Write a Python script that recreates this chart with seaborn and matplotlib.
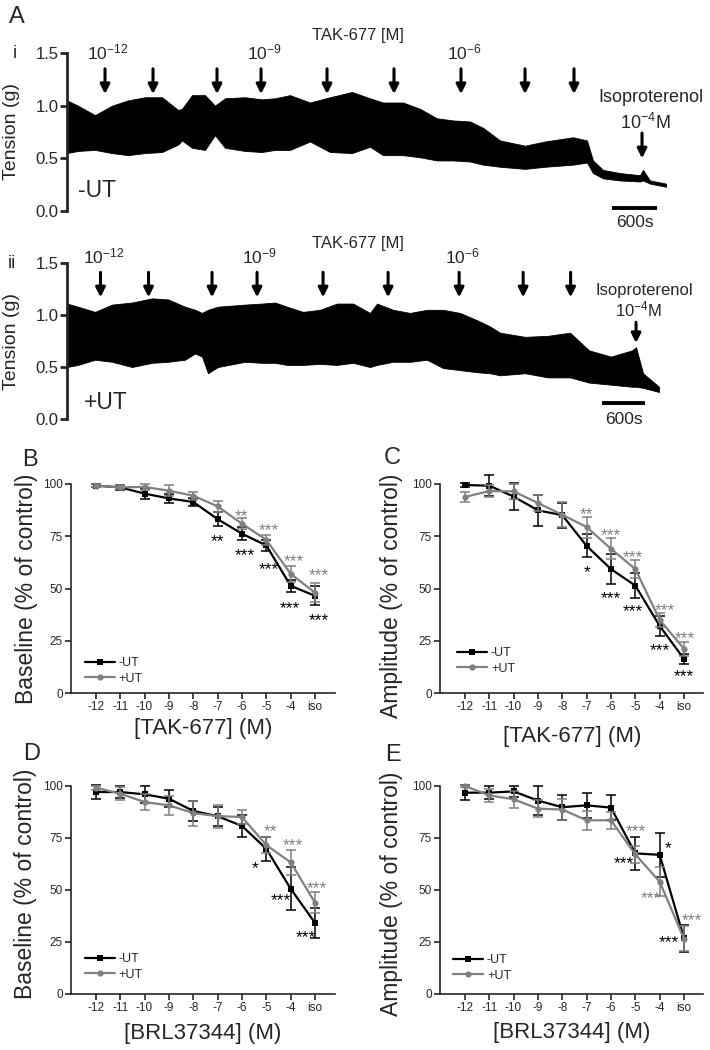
import numpy as np
import pandas as pd
import matplotlib
matplotlib.use('Agg')
import matplotlib.pyplot as plt
import seaborn as sns

sns.set_style('ticks')
plt.rcParams['font.family'] = ['Liberation Sans', 'DejaVu Sans']
plt.rcParams['mathtext.fontset'] = 'custom'
plt.rcParams['mathtext.rm'] = 'Liberation Sans'
plt.rcParams['mathtext.it'] = 'Liberation Sans'
plt.rcParams['mathtext.default'] = 'regular'

BLACK = '#000000'
GRAY = '#808080'

# ---- panel A: tension traces (envelope read from the recording, s / g)
trace_i_t = [0, 147, 373, 600, 813, 1040, 1267, 1480, 1533, 1667, 1840, 1973, 2107,
             2373, 2600, 2773, 2973, 3240, 3507, 3800, 4040, 4213, 4480, 4707, 4933,
             5147, 5373, 5547, 5773, 6107, 6373, 6747, 6933, 7013, 7147, 7373, 7640,
             7680, 7773, 7987]
trace_i_hi = [1.05, 1.00, 0.91, 1.00, 1.05, 1.08, 1.08, 0.96, 0.97, 1.10, 1.10, 1.00, 1.07,
              1.08, 1.06, 1.07, 1.10, 1.03, 1.08, 1.13, 1.07, 1.03, 1.03, 0.97, 0.88,
              0.86, 0.85, 0.79, 0.67, 0.62, 0.66, 0.70, 0.67, 0.48, 0.39, 0.36, 0.34,
              0.39, 0.29, 0.26]
trace_i_lo = [0.55, 0.57, 0.58, 0.55, 0.53, 0.55, 0.56, 0.63, 0.67, 0.60, 0.58, 0.72, 0.60,
              0.57, 0.56, 0.58, 0.58, 0.66, 0.56, 0.55, 0.61, 0.53, 0.53, 0.51, 0.48,
              0.48, 0.47, 0.44, 0.42, 0.40, 0.42, 0.44, 0.46, 0.36, 0.31, 0.29, 0.28,
              0.29, 0.26, 0.23]
arrows_i = [507, 1147, 2000, 2587, 3467, 4360, 5253, 6107, 6760]
iso_i = 7667

trace_ii_t = [0, 153, 391, 628, 907, 1186, 1409, 1646, 1786, 1883, 1967, 2106, 2483,
              2720, 2902, 3069, 3292, 3529, 3767, 3990, 4227, 4325, 4548, 4785, 5022,
              5245, 5482, 5720, 5901, 6040, 6389, 6710, 7017, 7282, 7589, 7882, 7938,
              8035, 8258]
trace_ii_hi = [1.11, 1.08, 1.03, 1.10, 1.12, 1.16, 1.15, 1.08, 1.05, 1.02, 1.05, 1.08, 1.10,
               1.11, 1.12, 1.08, 1.03, 1.05, 1.11, 1.11, 1.02, 1.11, 1.05, 1.02, 1.05,
               1.05, 1.02, 0.95, 0.89, 0.83, 0.79, 0.80, 0.83, 0.66, 0.60, 0.66, 0.69,
               0.44, 0.31]
trace_ii_lo = [0.50, 0.52, 0.57, 0.55, 0.50, 0.54, 0.55, 0.57, 0.63, 0.60, 0.44, 0.50, 0.55,
               0.54, 0.54, 0.52, 0.52, 0.53, 0.52, 0.54, 0.50, 0.52, 0.55, 0.55, 0.57,
               0.49, 0.47, 0.45, 0.44, 0.42, 0.44, 0.40, 0.40, 0.35, 0.33, 0.31, 0.31,
               0.30, 0.26]
arrows_ii = [467, 1137, 2023, 2651, 3572, 4479, 5470, 6363, 7025]
iso_ii = 7938
conc_labels = [r'10$^{-12}$', r'10$^{-9}$', r'10$^{-6}$']
conc_label_idx = [0, 3, 6]

# ---- panels B-E: % of control, mean and SEM
doses = ['-12', '-11', '-10', '-9', '-8', '-7', '-6', '-5', '-4', 'iso']

b_minus = [99.2, 98.4, 95.4, 93.1, 91.4, 83.2, 76.2, 70.6, 51.3, 46.5]
b_minus_err = [0.8, 1.2, 2.4, 2.0, 2.0, 3.2, 3.0, 2.5, 3.0, 4.5]
b_plus = [99.2, 98.4, 98.6, 96.8, 94.4, 89.3, 81.0, 73.3, 57.0, 48.0]
b_plus_err = [0.6, 1.0, 1.5, 2.5, 2.0, 2.5, 2.5, 2.5, 3.8, 4.5]

c_minus = [99.5, 99.2, 94.0, 87.4, 85.1, 70.4, 59.3, 51.4, 32.1, 16.3]
c_minus_err = [0.8, 5.0, 6.5, 7.3, 6.0, 5.5, 7.0, 6.0, 4.8, 2.3]
c_plus = [93.8, 96.6, 96.5, 90.9, 85.3, 79.4, 69.0, 59.3, 35.0, 21.1]
c_plus_err = [2.5, 3.0, 3.5, 4.0, 6.0, 5.0, 5.0, 4.5, 3.5, 3.5]

d_minus = [97.1, 97.1, 96.0, 93.9, 88.0, 85.5, 80.8, 69.8, 50.6, 34.2]
d_minus_err = [3.5, 3.0, 4.0, 4.0, 5.0, 4.5, 5.3, 5.8, 10.3, 7.3]
d_plus = [99.2, 96.3, 92.3, 90.7, 87.0, 85.5, 85.1, 71.6, 63.3, 43.9]
d_plus_err = [1.0, 3.0, 4.0, 4.5, 6.0, 5.5, 3.5, 4.0, 6.0, 5.0]

e_minus = [96.8, 96.8, 97.4, 93.0, 89.8, 90.7, 89.6, 67.6, 66.9, 26.8]
e_minus_err = [3.5, 3.0, 2.5, 7.0, 6.0, 6.0, 6.0, 7.8, 10.7, 6.5]
e_plus = [100.0, 95.5, 93.6, 89.1, 88.7, 83.5, 83.5, 67.1, 54.0, 26.5]
e_plus_err = [0.5, 3.0, 4.0, 4.0, 5.0, 4.5, 4.0, 4.0, 7.0, 6.0]

# significance marks: (dose position, value, text)
stars_b_plus = [(6.0, 87.2, '**'), (7.1, 80.5, '***'), (8.15, 65.3, '***'), (9.15, 58.6, '***')]
stars_b_minus = [(5.0, 75.2, '**'), (6.1, 68.2, '***'), (7.1, 61.8, '***'), (7.95, 43.0, '***'),
                 (9.15, 37.1, '***')]
stars_c_plus = [(5.0, 88.0, '**'), (6.0, 78.1, '***'), (6.9, 67.3, '***'), (8.2, 42.0, '***'),
                (9.05, 28.6, '***')]
stars_c_minus = [(5.0, 60.2, '*'), (6.0, 47.8, '***'), (6.9, 41.4, '***'), (8.0, 23.0, '***'),
                 (9.0, 10.7, '***')]
stars_d_plus = [(7.16, 80.8, '**'), (8.09, 74.0, '***'), (9.09, 53.5, '***')]
stars_d_minus = [(6.55, 62.8, '*'), (7.61, 47.3, '***'), (8.63, 29.7, '***')]
stars_e_plus = [(7.03, 80.7, '***'), (7.62, 48.4, '***'), (9.32, 38.0, '***')]
stars_e_minus = [(8.33, 72.4, '*'), (6.53, 65.2, '***'), (8.37, 27.3, '***')]

W, H = 710, 1050
fig = plt.figure(figsize=(W / 100, H / 100), dpi=100)


def px_axes(left, top, right, bottom):
    return fig.add_axes([left / W, 1 - bottom / H, (right - left) / W, (bottom - top) / H])


def trace_panel(ax, t, lo, hi, arrows, iso, xmax, lab_y, tak_y, tak_x, iso_txt_y, iso_lbl_y,
                iso_arrow, bar, bar_y, bar_txt_y, cond, cond_xy, ylab_x, iso_size):
    ax.fill_between(t, lo, hi, color=BLACK, linewidth=0.6, edgecolor=BLACK)
    ax.set_xlim(0, xmax)
    ax.set_ylim(0, 1.5)
    sns.despine(ax=ax, bottom=True)
    ax.spines['left'].set_linewidth(2)
    ax.set_xticks([])
    ax.set_yticks([0, 0.5, 1.0, 1.5])
    ax.set_yticklabels(['0.0', '0.5', '1.0', '1.5'])
    ax.tick_params(axis='y', direction='out', length=5, width=2, labelsize=12, pad=1)
    ax.set_ylabel('Tension (g)', fontsize=14)
    ax.yaxis.set_label_coords(ylab_x, 0.5)
    for a in arrows:
        ax.annotate('', xy=(a, lab_y - 0.30), xytext=(a, lab_y - 0.06),
                    arrowprops=dict(arrowstyle='-|>', lw=2.2, color=BLACK,
                                    mutation_scale=14, shrinkA=0, shrinkB=0),
                    annotation_clip=False)
    for lbl, idx in zip(conc_labels, conc_label_idx):
        ax.text(arrows[idx] + 40, lab_y, lbl, ha='center', va='bottom', fontsize=12.5)
    ax.text(tak_x, tak_y, 'TAK-677 [M]', ha='center', va='center', fontsize=12)
    ax.text(iso + 120, iso_txt_y, 'Isoproterenol', ha='center', va='center', fontsize=iso_size)
    ax.text(iso + 40, iso_lbl_y, r'10$^{-4}$M', ha='center', va='center', fontsize=iso_size)
    ax.annotate('', xy=(iso, iso_arrow[1]), xytext=(iso, iso_arrow[0]),
                arrowprops=dict(arrowstyle='-|>', lw=2.2, color=BLACK,
                                mutation_scale=14, shrinkA=0, shrinkB=0),
                annotation_clip=False)
    ax.plot(bar, [bar_y, bar_y], color=BLACK, lw=2.8, clip_on=False, solid_capstyle='butt')
    ax.text(np.mean(bar), bar_txt_y, '600s', ha='center', va='center', fontsize=12.5)
    ax.text(cond_xy[0], cond_xy[1], cond, ha='left', va='center', fontsize=16.5)


ax_i = px_axes(67, 53, 700, 211)
trace_panel(ax_i, trace_i_t, trace_i_lo, trace_i_hi, arrows_i, iso_i, 8440,
            lab_y=1.41, tak_y=1.67, tak_x=3880, iso_txt_y=1.08, iso_lbl_y=0.84,
            iso_arrow=(0.74, 0.50), bar=[7270, 7870], bar_y=0.03, bar_txt_y=-0.11,
            cond='-UT', cond_xy=(147, 0.19), ylab_x=-0.075, iso_size=13)

ax_ii = px_axes(67, 263, 700, 419)
trace_panel(ax_ii, trace_ii_t, trace_ii_lo, trace_ii_hi, arrows_ii, iso_ii, 8830,
            lab_y=1.47, tak_y=1.69, tak_x=4060, iso_txt_y=1.235, iso_lbl_y=1.055,
            iso_arrow=(0.93, 0.73), bar=[7464, 8064], bar_y=0.15, bar_txt_y=0.0,
            cond='+UT', cond_xy=(237, 0.16), ylab_x=-0.075, iso_size=12)


def dose_panel(ax, minus, minus_err, plus, plus_err, st_minus, st_plus, ylabel, xlabel,
               leg_xy, ylab_xy, xlab_y):
    pos = np.arange(len(doses))
    groups = [(minus, minus_err, BLACK, 's', '-UT', 3), (plus, plus_err, GRAY, 'o', '+UT', 4)]
    for vals, err, col, mk, lab, z in groups:
        ax.errorbar(pos, vals, yerr=err, fmt='none', ecolor=col, elinewidth=1.1,
                    capsize=3.5, capthick=1.1, zorder=z, clip_on=False)
        df = pd.DataFrame({'dose': pos, 'value': vals})
        sns.lineplot(data=df, x='dose', y='value', color=col, marker=mk, markersize=4.5,
                     markeredgewidth=0, linewidth=1.6, label=lab, ax=ax, zorder=z,
                     errorbar=None, clip_on=False)
    for stars, col in [(st_minus, BLACK), (st_plus, GRAY)]:
        for x, y, s in stars:
            ax.annotate(s, (x, y), xytext=(0, -7.2), textcoords='offset points',
                        ha='center', va='baseline', fontsize=12.5, color=col)
    ax.set_xlim(-1.02, 9.8)
    ax.set_ylim(0, 100)
    ax.set_xticks(pos)
    ax.set_xticklabels(doses)
    ax.set_yticks([0, 25, 50, 75, 100])
    sns.despine(ax=ax)
    for sp in ['left', 'bottom']:
        ax.spines[sp].set_linewidth(1.2)
    ax.tick_params(direction='out', length=4, width=1.2, labelsize=8.5, pad=2)
    ax.set_ylabel(ylabel, fontsize=16.5)
    ax.set_xlabel(xlabel, fontsize=16)
    ax.yaxis.set_label_coords(*ylab_xy)
    ax.xaxis.set_label_coords(0.5, xlab_y)
    ax.legend(loc='center left', bbox_to_anchor=leg_xy, frameon=False, fontsize=9,
              handlelength=2.4, handletextpad=0.3, labelspacing=0.25, borderpad=0,
              borderaxespad=0)


ax_b = px_axes(71, 484, 334.5, 693)
dose_panel(ax_b, b_minus, b_minus_err, b_plus, b_plus_err, stars_b_minus, stars_b_plus,
           'Baseline (% of control)', '[TAK-677] (M)', (0.053, 0.105), (-0.125, 0.5), -0.12)
ax_c = px_axes(440, 484, 703.5, 693)
dose_panel(ax_c, c_minus, c_minus_err, c_plus, c_plus_err, stars_c_minus, stars_c_plus,
           'Amplitude (% of control)', '[TAK-677] (M)', (0.065, 0.153), (-0.141, 0.465), -0.16)
ax_d = px_axes(71, 786, 334.5, 994)
dose_panel(ax_d, d_minus, d_minus_err, d_plus, d_plus_err, stars_d_minus, stars_d_plus,
           'Baseline (% of control)', '[BRL37344] (M)', (0.053, 0.13), (-0.129, 0.53), -0.14)
ax_e = px_axes(440, 786, 703.5, 994)
dose_panel(ax_e, e_minus, e_minus_err, e_plus, e_plus_err, stars_e_minus, stars_e_plus,
           'Amplitude (% of control)', '[BRL37344] (M)', (0.05, 0.125), (-0.141, 0.48), -0.135)

for lbl, x, y, size in [('A', 17, 17, 17), ('i', 15, 53, 13), ('ii', 12, 263, 13),
                        ('B', 30, 460, 17), ('C', 392, 458, 17),
                        ('D', 32, 754, 17), ('E', 393, 755, 17)]:
    fig.text(x / W, 1 - y / H, lbl, ha='center', va='center', fontsize=size)

fig.savefig('out.png', dpi=100)
